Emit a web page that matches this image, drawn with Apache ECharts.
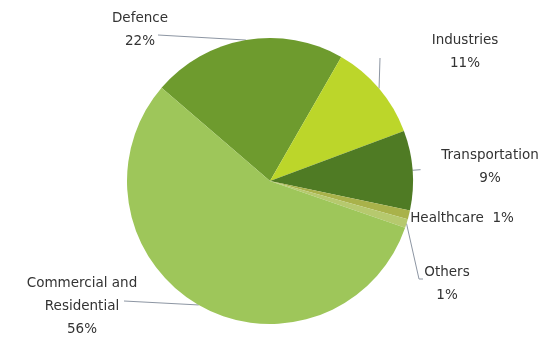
<!DOCTYPE html>
<html>
<head>
<meta charset="utf-8">
<script src="https://cdn.jsdelivr.net/npm/echarts@6/dist/echarts.min.js"></script>
<style>
html,body{margin:0;padding:0;background:#fff;}
#chart{width:556px;height:341px;}
</style>
</head>
<body>
<div id="chart"></div>
<script>
// Data
const categories = ['Defence', 'Industries', 'Transportation', 'Healthcare', 'Others', 'Commercial and\nResidential'];
const shares = [22, 11, 9, 1, 1, 56];

// Styling / layout (not data)
const sliceColors = ['#6e9b2e', '#bcd62a', '#4f7b24', '#a9b24a', '#b6c96e', '#9ec65a'];
const labelSpots = [
  { x: 140, y: 30, end: [158, 35] },
  { x: 465, y: 52, end: [380, 58] },
  { x: 490, y: 167, end: null },
  { x: 462, y: 218, end: null },
  { x: 447, y: 284, end: [419, 279], hook: [423, 279] },
  { x: 82, y: 306, end: [124, 301] }
];
const lineLengths = [0, 0, 8, 0, 0, 0];

const chart = echarts.init(document.getElementById('chart'), null, { renderer: 'canvas' });

const seriesData = categories.map((name, i) => ({
  name: name,
  value: shares[i],
  itemStyle: { color: sliceColors[i] },
  label: {
    formatter: i === 3 ? '{b}  {c}%' : '{b}\n{c}%'
  },
  labelLine: { show: i !== 3, length: lineLengths[i], length2: 0 }
}));

chart.setOption({
  animation: false,
  backgroundColor: '#ffffff',
  series: [{
    type: 'pie',
    center: [270, 181],
    radius: 143,
    startAngle: 139.3,
    clockwise: true,
    avoidLabelOverlap: false,
    data: seriesData,
    itemStyle: { borderWidth: 0 },
    label: {
      show: true,
      position: 'outside',
      color: '#333333',
      fontFamily: 'DejaVu Sans',
      fontSize: 13.5,
      lineHeight: 23,
      align: 'center'
    },
    labelLine: {
      show: true,
      smooth: false,
      lineStyle: { color: '#8d96a3', width: 1 }
    },
    labelLayout: function (params) {
      const s = labelSpots[params.dataIndex];
      const out = { x: s.x, y: s.y, align: 'center', verticalAlign: 'middle' };
      const pts = params.labelLinePoints;
      if (pts && pts.length) {
        const p0 = pts[0];
        if (s.end) {
          if (s.hook) {
            out.labelLinePoints = [p0, s.end, s.hook];
          } else {
            out.labelLinePoints = [p0, s.end, s.end];
          }
        } else {
          const p1 = pts[1];
          out.labelLinePoints = [p0, p1, p1];
        }
      }
      return out;
    }
  }]
});
</script>
</body>
</html>
